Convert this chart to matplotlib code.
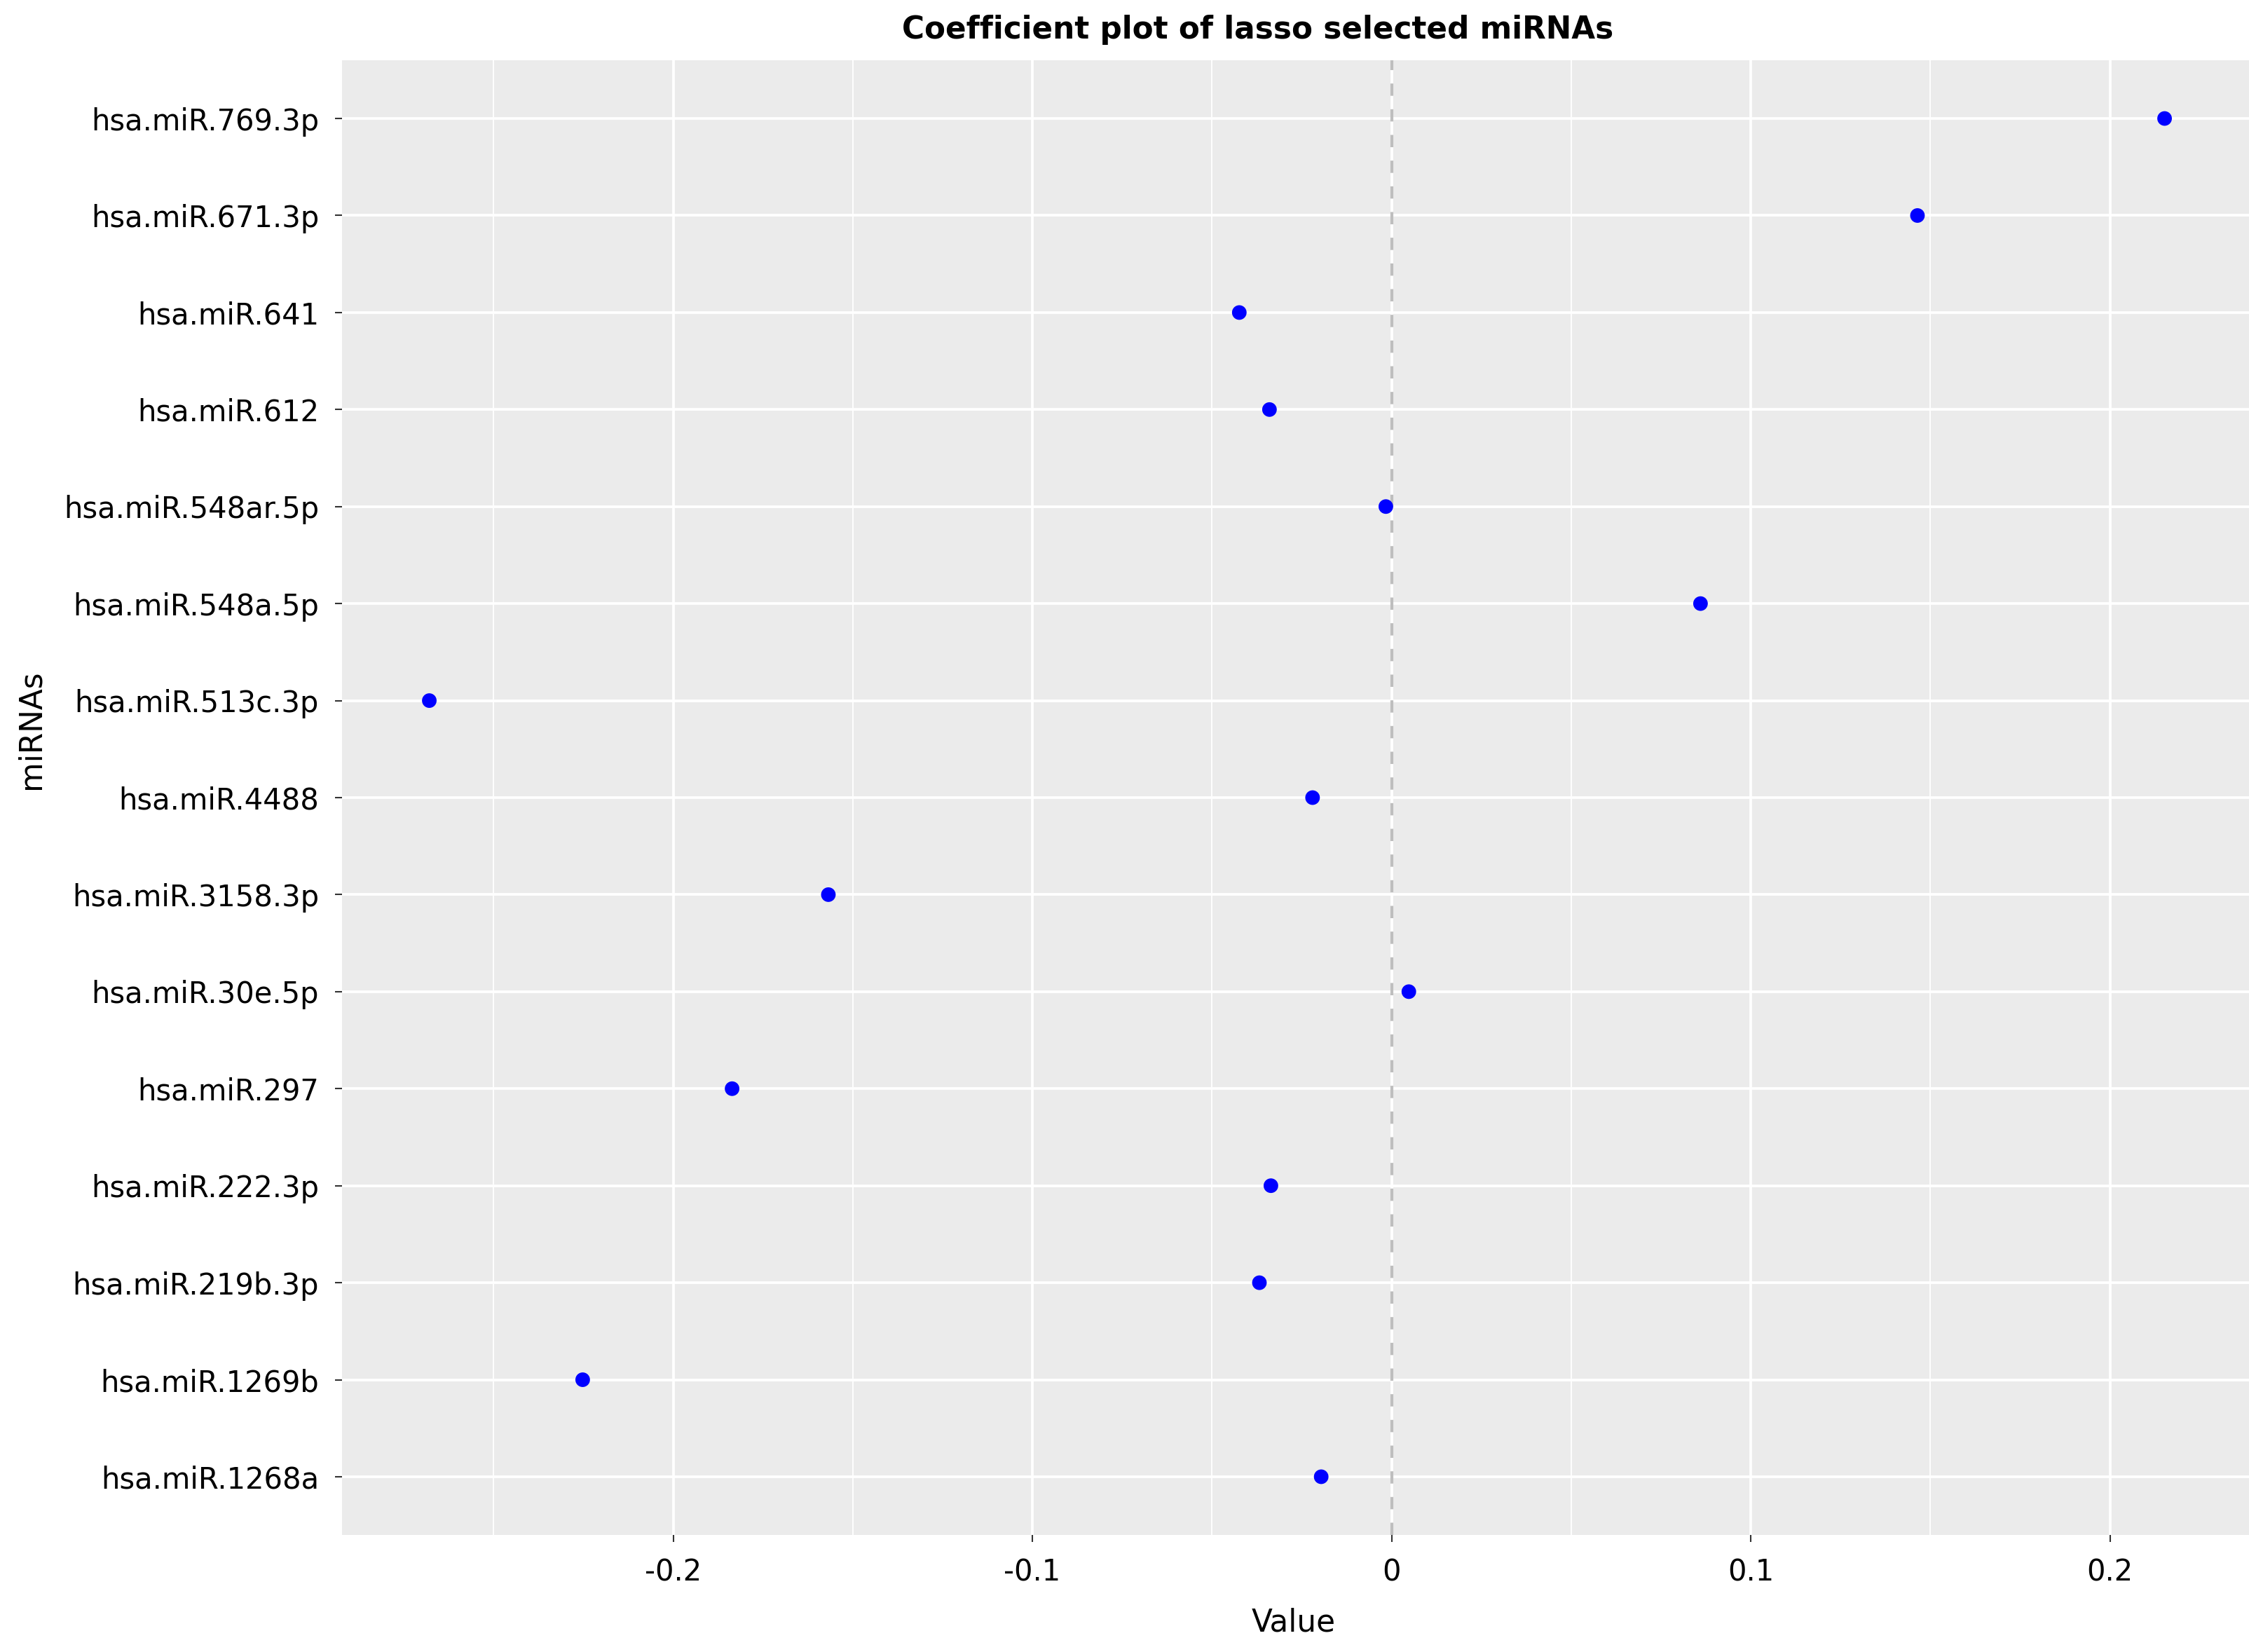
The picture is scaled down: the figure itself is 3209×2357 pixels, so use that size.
import matplotlib
matplotlib.use("Agg")
import matplotlib.pyplot as plt
import numpy as np

# Data (top to bottom as displayed)
mirnas = ["hsa.miR.769.3p", "hsa.miR.671.3p", "hsa.miR.641", "hsa.miR.612",
          "hsa.miR.548ar.5p", "hsa.miR.548a.5p", "hsa.miR.513c.3p", "hsa.miR.4488",
          "hsa.miR.3158.3p", "hsa.miR.30e.5p", "hsa.miR.297", "hsa.miR.222.3p",
          "hsa.miR.219b.3p", "hsa.miR.1269b", "hsa.miR.1268a"]
coefs = [0.2152, 0.1464, -0.0424, -0.0340, -0.0016, 0.0860, -0.2679, -0.0220,
         -0.1568, 0.0048, -0.1836, -0.0336, -0.0368, -0.2252, -0.0196]
xticks = [-0.2, -0.1, 0.0, 0.1, 0.2]
xtick_labels = ["-0.2", "-0.1", "0", "0.1", "0.2"]
xminor = [-0.25, -0.15, -0.05, 0.05, 0.15]

W, H = 3209, 2357
DPI = 300
plt.rcParams['font.family'] = ['DejaVu Sans']
fig = plt.figure(figsize=(W / DPI, H / DPI), dpi=DPI)

L, R, T, B = 488, 3209, 86, 2190
ax = fig.add_axes([L / W, 1 - B / H, (R - L) / W, (B - T) / H])
ax.set_facecolor("#EBEBEB")
for s in ax.spines.values():
    s.set_visible(False)

n = len(mirnas)
ypos = np.arange(n)[::-1]  # first item at top

ax.set_xlim(-0.2922, 0.2387)
ax.set_ylim(-0.6, n - 1 + 0.6)

# grid
for xm in xminor:
    ax.axvline(xm, color="white", lw=0.45, zorder=0.5)
for xt in xticks:
    ax.axvline(xt, color="white", lw=0.9, zorder=0.6)
for yy in ypos:
    ax.axhline(yy, color="white", lw=0.9, zorder=0.6)

ax.axvline(0, color="#BEBEBE", lw=1.0, linestyle=(0, (4.2, 4.6)), zorder=1)

ax.scatter(coefs, ypos, s=5.0 ** 2, color="#0000FF", edgecolors="none", zorder=3)

ax.set_yticks(ypos)
ax.set_yticklabels(mirnas, fontsize=10, color="black")
ax.set_xticks(xticks)
ax.set_xticklabels(xtick_labels, fontsize=10, color="black")
ax.tick_params(axis="both", length=2.4, width=0.5, color="#333333")
ax.tick_params(axis="y", pad=5.5)
ax.tick_params(axis="x", pad=5.5)

fig.text(1795 / W, 1 - 55 / H, "Coefficient plot of lasso selected miRNAs",
         ha="center", va="baseline", fontsize=10.5, fontweight="bold")
fig.text(1846 / W, 1 - 2328 / H, "Value", ha="center", va="baseline", fontsize=10.5)
fig.text(44 / W, 1 - 1041 / H, "miRNAs", ha="center", va="center",
         rotation=90, fontsize=10.5)

fig.savefig("out.png", dpi=DPI)
